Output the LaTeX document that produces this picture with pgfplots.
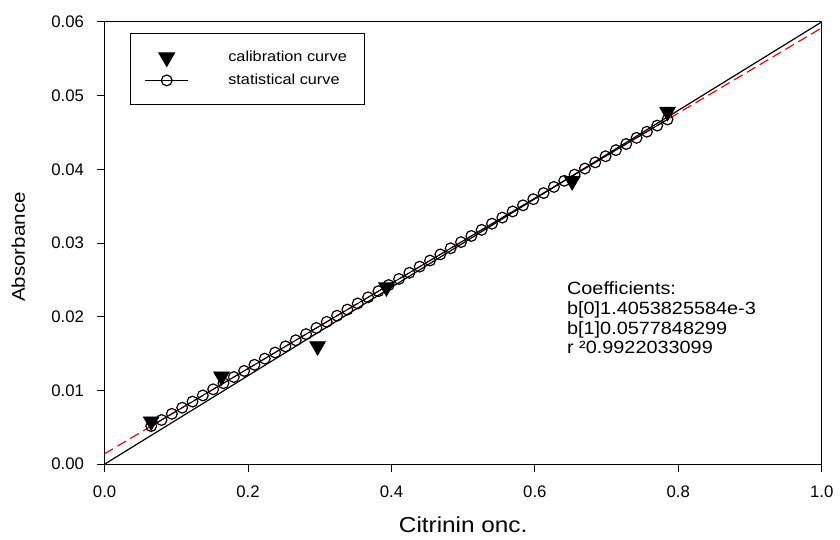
\documentclass[border=0pt]{standalone}
\usepackage{pgfplots}
\pgfplotsset{compat=1.18}
\usepackage{fontspec}
\setmainfont{Liberation Sans}
\newfontfamily\widefont[FakeStretch=1.12]{Liberation Sans}
\pgfplotsset{legend image code/.code={\draw[mark repeat=2,mark phase=2,#1] plot coordinates {(0pt,0pt) (10.75pt,0pt) (21.5pt,0pt)};}}
\begin{document}
\begin{tikzpicture}
\begin{axis}[
  scale only axis,
  width=360pt, height=222pt,
  xmin=0, xmax=1, ymin=0, ymax=0.06,
  xtick={0,0.2,0.4,0.6,0.8,1.0},
  ytick={0,0.01,0.02,0.03,0.04,0.05,0.06},
  xticklabel style={/pgf/number format/fixed, /pgf/number format/fixed zerofill, /pgf/number format/precision=1, yshift=-3.5pt},
  yticklabel style={/pgf/number format/fixed, /pgf/number format/fixed zerofill, /pgf/number format/precision=2, xshift=-2.8pt},
  scaled y ticks=false,
  /pgf/number format/assume math mode=true,
  tick label style={font=\fontsize{8.4}{10}\selectfont},
  tick align=outside,
  xtick pos=bottom, ytick pos=left,
  major tick length=4pt,
  every tick/.style={black, line width=0.5pt},
  axis line style={line width=0.5pt},
  xlabel={Citrinin onc.},
  ylabel={Absorbance},
  xlabel style={font=\widefont\fontsize{10.9}{13}\selectfont, at={(axis description cs:0.5,0)}, anchor=base, yshift=-34.5pt},
  ylabel style={font=\widefont\fontsize{9.2}{11}\selectfont, at={([xshift=-40pt,yshift=-2pt]axis description cs:0,0.5)}, anchor=base},
  legend style={at={(axis description cs:0.036,0.975)}, anchor=north west,
    draw=black, line width=0.5pt, font=\widefont\fontsize{7.3}{9.84}\selectfont,
    inner xsep=7pt, inner ysep=6.3pt,
    nodes={inner sep=1.9pt, text height=6pt, text depth=1.7pt},
    /tikz/every odd column/.append style={column sep=18pt}},
  legend cell align=left,
  clip=true,
]
\addplot[red, line width=0.6pt, dash pattern=on 5pt off 2.5pt, forget plot] coordinates {(0,0.0014054) (1,0.0591902)};
\addplot[black, line width=0.6pt, forget plot] coordinates {(0,0) (1,0.06)};
\addplot[only marks, mark=triangle*, mark size=4.5pt, mark options={rotate=180, fill=black, draw=black}]
  coordinates {(0.065,0.0058) (0.163,0.0119) (0.297,0.0160) (0.393,0.0240) (0.652,0.0384) (0.785,0.0478)};
\addlegendentry{calibration curve}
\addplot[black, line width=0.5pt, mark=o, mark size=2.7pt, mark options={fill=white, draw=black, line width=0.6pt}]
  coordinates {
(0.0650,0.005161) (0.0794,0.005993) (0.0938,0.006825) (0.1082,0.007657) (0.1226,0.008489)
(0.1370,0.009322) (0.1514,0.010154) (0.1658,0.010986) (0.1802,0.011818) (0.1946,0.012650)
(0.2090,0.013482) (0.2234,0.014314) (0.2378,0.015146) (0.2522,0.015978) (0.2666,0.016810)
(0.2810,0.017643) (0.2954,0.018475) (0.3098,0.019307) (0.3242,0.020139) (0.3386,0.020971)
(0.3530,0.021803) (0.3674,0.022635) (0.3818,0.023467) (0.3962,0.024299) (0.4106,0.025131)
(0.4250,0.025964) (0.4394,0.026796) (0.4538,0.027628) (0.4682,0.028460) (0.4826,0.029292)
(0.4970,0.030124) (0.5114,0.030956) (0.5258,0.031788) (0.5402,0.032620) (0.5546,0.033452)
(0.5690,0.034285) (0.5834,0.035117) (0.5978,0.035949) (0.6122,0.036781) (0.6266,0.037613)
(0.6410,0.038445) (0.6554,0.039277) (0.6698,0.040109) (0.6842,0.040941) (0.6986,0.041773)
(0.7130,0.042606) (0.7274,0.043438) (0.7418,0.044270) (0.7562,0.045102) (0.7706,0.045934)
(0.7850,0.046766)};
\addlegendentry{statistical curve}
\begin{scope}[every node/.style={anchor=base west, inner sep=0pt, font=\widefont\fontsize{8.9}{10.6}\selectfont}]
\node at (axis cs:0.6444,0.02297) {Coefficients:};
\node at (axis cs:0.6444,0.02027) {b[0]1.4053825584e-3};
\node at (axis cs:0.6444,0.01757) {b[1]0.0577848299};
\node at (axis cs:0.6444,0.01500) {r ²0.9922033099};
\end{scope}
\end{axis}
\path[use as bounding box] (-52.5pt,-36.5pt) rectangle (367.5pt,233pt);
\end{tikzpicture}
\end{document}
